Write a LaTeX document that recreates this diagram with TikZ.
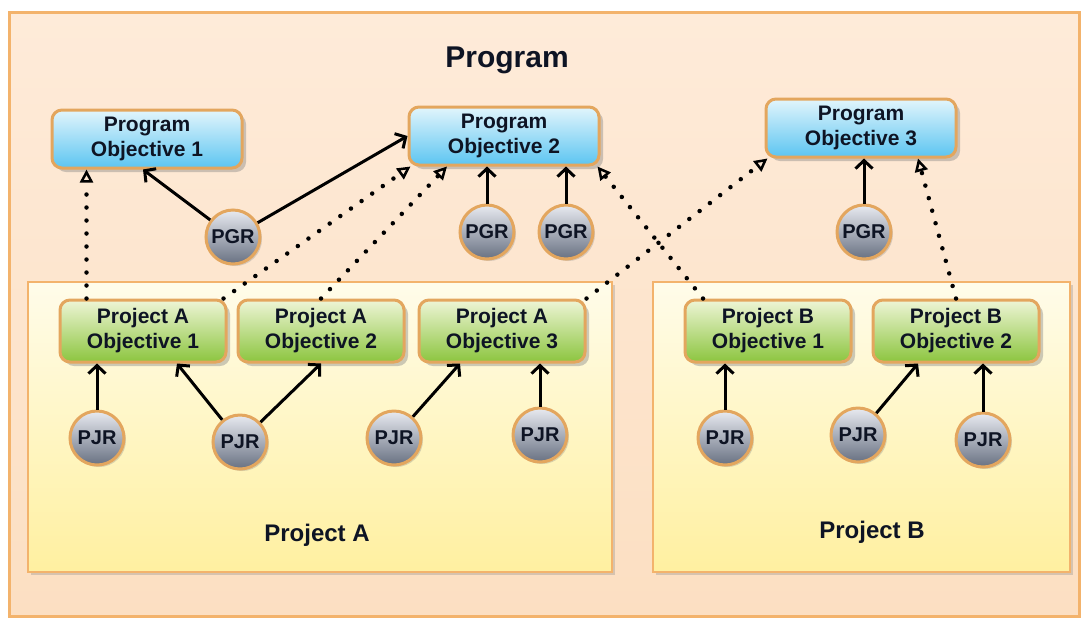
\documentclass[tikz,border=0pt]{standalone}
\usepackage{fontspec}
\setmainfont{Liberation Sans}
\usetikzlibrary{shadows, calc, arrows.meta}
\definecolor{peach}{HTML}{FCDFC2}
\definecolor{peachtop}{HTML}{FEEBD9}
\definecolor{rim}{HTML}{F3B36C}
\definecolor{tan}{HTML}{E3A65E}
\definecolor{creamtop}{HTML}{FFFCEA}
\definecolor{creambot}{HTML}{FFF0A0}
\definecolor{skytop}{HTML}{E2F5FC}
\definecolor{skybot}{HTML}{5CC5F1}
\definecolor{leaftop}{HTML}{EEF5D6}
\definecolor{leafbot}{HTML}{8CC53F}
\definecolor{balltop}{HTML}{E8EAF0}
\definecolor{ballbot}{HTML}{687182}
\definecolor{ink}{HTML}{0E1424}
\newcommand{\objfont}{\fontsize{21}{25}\selectfont\bfseries}
\newcommand{\ballfont}{\fontsize{20}{24}\selectfont\bfseries}

\begin{document}
\begin{tikzpicture}
  [x=1pt, y=-1pt,
   group frame/.style={draw=rim, line width=2.5pt, top color=creamtop, bottom color=creambot,
     drop shadow={shadow xshift=3pt, shadow yshift=-3pt, opacity=0.3}},
   prog obj/.style={draw=tan, line width=3pt, rounded corners=10pt, top color=skytop,
     bottom color=skybot, minimum width=190pt, minimum height=58pt, align=center,
     text=ink, font=\objfont, inner sep=2pt,
     drop shadow={shadow xshift=4pt, shadow yshift=-4pt, opacity=0.4}},
   proj obj/.style={prog obj, top color=leaftop, bottom color=leafbot,
     minimum width=166pt, minimum height=62pt},
   ball/.style={circle, draw=tan, line width=3pt, top color=balltop, bottom color=ballbot,
     minimum size=54pt, inner sep=0pt, text=ink, font=\ballfont,
     drop shadow={shadow xshift=2pt, shadow yshift=-2pt, opacity=0.3}},
   uses/.style={line width=3pt, -{Straight Barb[length=8pt, width=17pt]}},
   supports/.style={line width=4.5pt, line cap=round, dash pattern=on 0pt off 13pt,
     -{Triangle[open, length=13pt, width=13pt, line width=2.5pt]}}]

  \useasboundingbox (0,0) rectangle (1083,619);

  % frames
  \draw[draw=rim, line width=3pt, top color=peachtop, bottom color=peach] (9,12) rectangle (1079,616);
  \draw[group frame] (28,282) rectangle (612,572);
  \draw[group frame] (653,282) rectangle (1070,572);

  \node[font=\fontsize{30}{34}\selectfont\bfseries, text=ink] (title) at (507,60) {Program};
  \node[font=\fontsize{24}{28}\selectfont\bfseries, text=ink] (label A) at (317,535) {Project A};
  \node[font=\fontsize{24}{28}\selectfont\bfseries, text=ink] (label B) at (872,532) {Project B};

  % program objectives
  \node[prog obj] (PO1) at (147,139) {Program\\Objective 1};
  \node[prog obj] (PO2) at (504,136) {Program\\Objective 2};
  \node[prog obj] (PO3) at (861,128) {Program\\Objective 3};

  \node[ball] (PGR1) at (233,237) {PGR};
  \node[ball] (PGR2) at (487,232) {PGR};
  \node[ball] (PGR3) at (566,232) {PGR};
  \node[ball] (PGR4) at (864,232) {PGR};

  % project objectives
  \node[proj obj] (PAO1) at (143,331) {Project A\\Objective 1};
  \node[proj obj] (PAO2) at (321,331) {Project A\\Objective 2};
  \node[proj obj] (PAO3) at (502,331) {Project A\\Objective 3};
  \node[proj obj] (PBO1) at (768,331) {Project B\\Objective 1};
  \node[proj obj] (PBO2) at (956,331) {Project B\\Objective 2};

  \node[ball] (PJR1) at (97,438) {PJR};
  \node[ball] (PJR2) at (240,442) {PJR};
  \node[ball] (PJR3) at (394,438) {PJR};
  \node[ball] (PJR4) at (540,435) {PJR};
  \node[ball] (PJR5) at (725,438) {PJR};
  \node[ball] (PJR6) at (858,435) {PJR};
  \node[ball] (PJR7) at (983,440) {PJR};

  % dotted links up to the program
  \draw[supports] ([xshift=28pt]PAO1.north west) -- ([xshift=36pt]PO1.south west);
  \draw[supports] ([xshift=-4pt]PAO1.north east) -- ([xshift=3pt]PO2.south west);
  \draw[supports] (PAO2.north) -- ([xshift=-57pt]PO2.south);
  \draw[supports] ([xshift=-65pt]PBO1.north) -- ([xshift=-3pt]PO2.south east);
  \draw[supports] (PAO3.north east) -- ([xshift=3pt]PO3.south west);
  \draw[supports] (PBO2.north) -- ([xshift=57pt]PO3.south);

  % PGR arrows
  \draw[uses] (PGR1) -- ([xshift=-4pt]PO1.south);
  \draw[uses] (PGR1) -- (PO2.west);
  \draw[uses] (PGR2) -- (PGR2 |- PO2.south);
  \draw[uses] (PGR3) -- (PGR3 |- PO2.south);
  \draw[uses] (PGR4) -- (PGR4 |- PO3.south);

  % PJR arrows
  \draw[uses] (PJR1) -- (PJR1 |- PAO1.south);
  \draw[uses] (PJR2) -- ([xshift=34pt]PAO1.south);
  \draw[uses] (PJR2) -- (PAO2.south);
  \draw[uses] (PJR3) -- ([xshift=-42pt]PAO3.south);
  \draw[uses] (PJR4) -- (PJR4 |- PAO3.south);
  \draw[uses] (PJR5) -- (PJR5 |- PBO1.south);
  \draw[uses] (PJR6) -- ([xshift=-38pt]PBO2.south);
  \draw[uses] (PJR7) -- (PJR7 |- PBO2.south);

\end{tikzpicture}
\end{document}
